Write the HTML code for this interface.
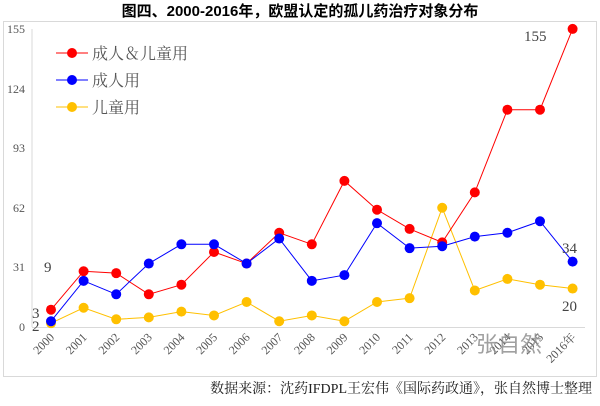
<!DOCTYPE html><html><head><meta charset="utf-8"><style>
body{margin:0;background:#fff;width:600px;height:401px;overflow:hidden}
text{font-family:"Liberation Serif","Noto Serif CJK SC",serif}
</style></head><body>
<svg width="600" height="401" xmlns="http://www.w3.org/2000/svg">
<text x="300" y="16" text-anchor="middle" font-size="15" font-weight="bold" style="font-family:'Liberation Sans','Noto Sans CJK SC',sans-serif" fill="#000">图四、2000-2016年，欧盟认定的孤儿药治疗对象分布</text>
<rect x="3.5" y="21.5" width="593" height="355" fill="none" stroke="#d9d9d9"/>
<line x1="32" y1="29" x2="32" y2="327" stroke="#d9d9d9"/>
<line x1="32" y1="327.5" x2="585" y2="327.5" stroke="#d9d9d9"/>
<g font-size="12" fill="#555" text-anchor="end">
<text x="25" y="33">155</text><text x="25" y="93">124</text><text x="25" y="152">93</text><text x="25" y="212">62</text><text x="25" y="271">31</text><text x="25" y="331">0</text>
</g>
<g id="xl" font-size="12" fill="#555"></g>
<g id="series"></g>
<g font-size="15" fill="#444">
<text x="44" y="272">9</text><text x="32" y="318">3</text><text x="32" y="331">2</text>
<text x="524" y="41">155</text><text x="562" y="253">34</text><text x="562" y="311">20</text>
</g>
<g font-size="16" fill="#555" style="font-family:'Liberation Sans','Noto Sans CJK SC',sans-serif">
<line x1="56" y1="53" x2="88" y2="53" stroke="#f00"/><circle cx="72" cy="53" r="5" fill="#f00"/><text x="92" y="59">成人＆儿童用</text>
<line x1="56" y1="80" x2="88" y2="80" stroke="#00f"/><circle cx="72" cy="80" r="5" fill="#00f"/><text x="92" y="86">成人用</text>
<line x1="56" y1="107" x2="88" y2="107" stroke="#ffc000"/><circle cx="72" cy="107" r="5" fill="#ffc000"/><text x="92" y="113">儿童用</text>
</g>
<text x="476" y="352" font-size="22" fill="#888" fill-opacity="0.8" style="font-family:'Liberation Sans','Noto Sans CJK SC',sans-serif">张自然</text>
<text x="592" y="393" text-anchor="end" font-size="14" fill="#222" style="font-family:'Liberation Serif','Noto Serif CJK SC',serif">数据来源：沈药IFDPL王宏伟《国际药政通》，张自然博士整理</text>
</svg>
<script>
const red=[9,29,28,17,22,39,33,49,43,76,61,51,44,70,113,113,155];
const blue=[3,24,17,33,43,43,33,46,24,27,54,41,42,47,49,55,34];
const yel=[2,10,4,5,8,6,13,3,6,3,13,15,62,19,25,22,20];
const X=i=>51+i*32.6, Y=v=>327-v*1.923;
const ns="http://www.w3.org/2000/svg";
const g=document.getElementById('series');
function draw(d,c){
 const p=document.createElementNS(ns,'polyline');
 p.setAttribute('points',d.map((v,i)=>X(i)+','+Y(v)).join(' '));
 p.setAttribute('fill','none');p.setAttribute('stroke',c);p.setAttribute('stroke-width','1');g.appendChild(p);
 d.forEach((v,i)=>{const e=document.createElementNS(ns,'circle');e.setAttribute('cx',X(i));e.setAttribute('cy',Y(v));e.setAttribute('r',5);e.setAttribute('fill',c);g.appendChild(e);});
}
draw(yel,'#ffc000');draw(red,'#f00');draw(blue,'#00f');
const xl=document.getElementById('xl');
for(let i=0;i<17;i++){const t=document.createElementNS(ns,'text');const x=X(i)+4,y=338;
 t.setAttribute('x',x);t.setAttribute('y',y);t.setAttribute('text-anchor','end');
 t.setAttribute('transform','rotate(-45 '+x+' '+y+')');t.textContent=(2000+i)+(i==16?'年':'');xl.appendChild(t);}
</script>
</body></html>
